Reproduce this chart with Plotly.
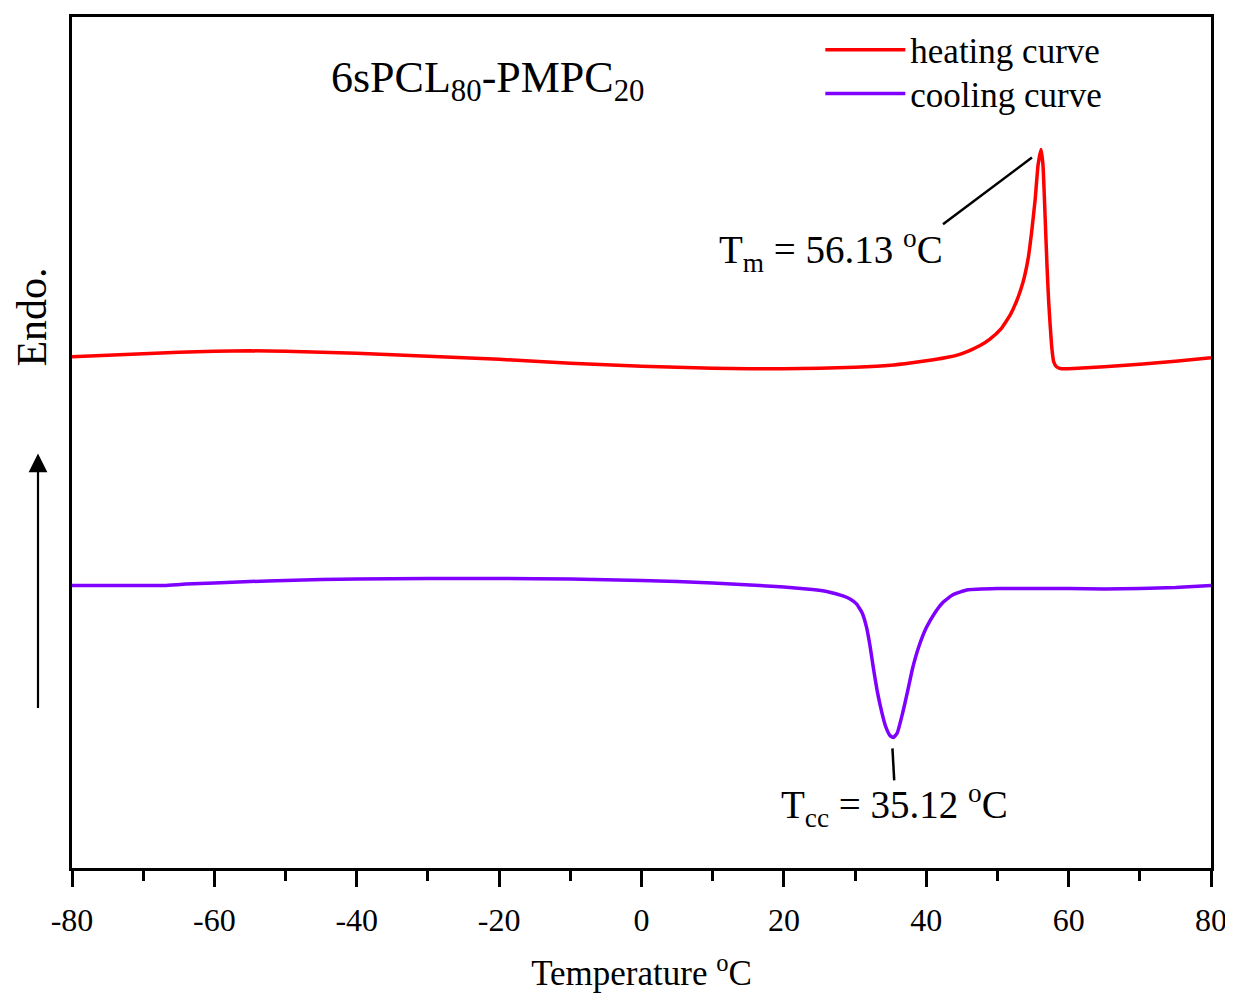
import plotly.graph_objects as go

# Heating curve (Temperature in °C, heat flow in arbitrary units, endo up)
heat_T = [-80, -75, -70, -65, -60, -55, -50, -45, -40, -35, -30, -25, -20, -15, -10, -5,
          0, 5, 10, 15, 20, 25, 30, 35, 38, 41, 43, 44.7, 46, 47.5, 48.9, 50.5, 51.8,
          52.7, 53.6, 54.3, 54.8, 55.3, 55.7, 56.13, 56.4, 56.7, 56.96, 57.2, 57.6,
          57.9, 58.3, 59, 60, 65, 70, 75, 80]
heat_px = [355, 353.5, 352, 350.5, 349.5, 349, 349.5, 350.5, 351.5, 353, 354.5, 356, 357.5,
           359.5, 361.5, 363, 364.5, 365.5, 366.5, 367, 367, 366.5, 365.5, 363.5, 361, 358,
           355.5, 352.5, 349, 344, 337.5, 327, 313, 299, 280, 257, 230, 197, 163, 147, 163, 215,
           263, 300, 343, 360, 365, 367, 367, 365, 362.5, 359.5, 356]
heat_flow = [round((868 - p) / 100, 3) for p in heat_px]

# Cooling curve
cool_T = [-80, -75, -70, -67, -64, -60, -55, -50, -45, -40, -30, -20, -10, 0, 5, 10, 16.6,
          20, 24, 26, 28.3, 29.3, 30.2, 31, 31.6, 32.1, 32.5, 33.1, 33.7, 34.3, 34.9, 35.37,
          35.9, 36.7, 37.4, 38.1, 39, 40, 41.2, 42.4, 43.8, 45.7, 50, 55, 60, 65, 70, 75, 80]
cool_px = [584.5, 584.5, 584.5, 584.5, 583, 582, 580.5, 579.5, 578.5, 578, 577.5, 577.5, 578,
           579.5, 580.5, 582, 584.5, 586, 588.5, 590.5, 595, 598, 603, 612, 626, 645, 664,
           690, 710, 726, 735, 737, 733, 712, 690, 667, 645, 627, 612, 601, 593.5, 589, 587.5,
           587.5, 587.5, 588, 587.5, 586.5, 584.5]
cool_flow = [round((868 - p) / 100, 3) for p in cool_px]

x_ticks = [-80, -60, -40, -20, 0, 20, 40, 60, 80]

FONT = "Liberation Serif, Times New Roman, serif"

fig = go.Figure()
fig.add_trace(go.Scatter(x=heat_T, y=heat_flow, mode="lines", name="heating curve",
                         legend="legend",
                         line=dict(color="#FF0000", width=3.5, shape="spline", smoothing=0.4)))
fig.add_trace(go.Scatter(x=cool_T, y=cool_flow, mode="lines", name="cooling curve",
                         legend="legend2",
                         line=dict(color="#7F00FF", width=3.5, shape="spline", smoothing=0.4)))

legend_common = dict(xanchor="left", yanchor="top",
                     font=dict(family=FONT, size=35, color="black"),
                     bgcolor="rgba(0,0,0,0)", itemwidth=80)

fig.update_layout(
    width=1233, height=996,
    margin=dict(l=64, r=30, t=6, b=136),
    paper_bgcolor="white", plot_bgcolor="white",
    font=dict(family=FONT, color="black", size=32),
    showlegend=True,
    legend=dict(x=0.657, y=0.996, **legend_common),
    legend2=dict(x=0.657, y=0.9445, **legend_common),
    xaxis=dict(range=[-80, 80], tickvals=x_ticks, ticktext=[str(v) for v in x_ticks],
               showline=True, linecolor="black", linewidth=3, mirror=True,
               ticks="outside", ticklen=16, tickwidth=3, tickcolor="black",
               minor=dict(dtick=10, ticks="outside", ticklen=10, tickwidth=3, tickcolor="black"),
               showgrid=False, zeroline=False, ticklabelstandoff=6,
               tickfont=dict(family=FONT, size=32),
               title=dict(text="Temperature <sup>o</sup>C", font=dict(family=FONT, size=35),
                          standoff=24)),
    yaxis=dict(range=[0, 8.54], showline=True, linecolor="black", linewidth=3, mirror=True,
               ticks="", showticklabels=False, showgrid=False, zeroline=False),
)

# Title-like label inside plot
fig.add_annotation(xref="paper", yref="paper", x=0.365, y=0.925,
                   text="6sPCL<sub>80</sub>-PMPC<sub>20</sub>", showarrow=False,
                   font=dict(family=FONT, size=44), xanchor="center", yanchor="middle")

# Tm annotation
fig.add_shape(type="line", x0=42.35, y0=6.46, x1=54.85, y1=7.13,
              line=dict(color="black", width=2.5))
fig.add_annotation(xref="paper", yref="paper", x=0.666, y=0.726,
                   text="T<sub>m</sub> = 56.13 <sup>o</sup>C", showarrow=False,
                   font=dict(family=FONT, size=39), xanchor="center", yanchor="middle")

# Tcc annotation
fig.add_shape(type="line", x0=35.25, y0=1.20, x1=35.5, y1=0.88,
              line=dict(color="black", width=2.5))
fig.add_annotation(xref="paper", yref="paper", x=0.722, y=0.073,
                   text="T<sub>cc</sub> = 35.12 <sup>o</sup>C", showarrow=False,
                   font=dict(family=FONT, size=39), xanchor="center", yanchor="middle")

# Endo. label and arrow
fig.add_annotation(xref="paper", yref="paper", x=-0.0355, y=0.6475, text="Endo.",
                   textangle=-90, showarrow=False, font=dict(family=FONT, size=42),
                   xanchor="center", yanchor="middle", borderpad=0)
fig.add_annotation(xref="paper", yref="paper", x=-0.02985, y=0.4871, text="",
                   showarrow=True, arrowhead=2, arrowsize=1.7, arrowwidth=2.2,
                   arrowcolor="black", ax=0, ay=256, axref="pixel", ayref="pixel")

fig.write_html("out.html")
